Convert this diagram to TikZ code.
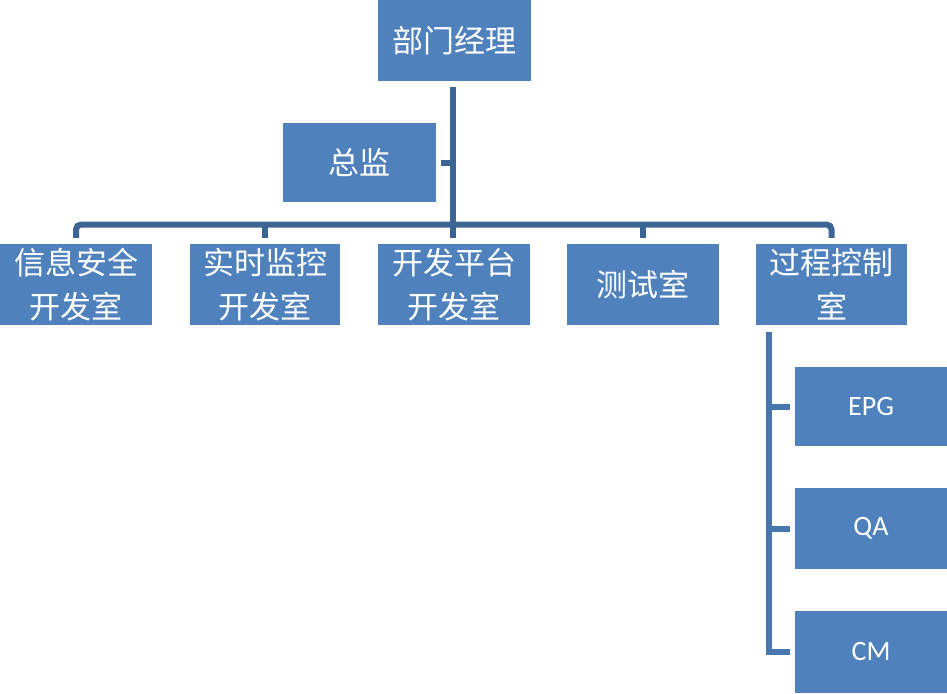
\documentclass[tikz,border=0pt]{standalone}
\usepackage{fontspec}
\newfontfamily\cjk{Noto Sans CJK SC}
\newfontfamily\lat{Carlito}
\usetikzlibrary{calc}
\definecolor{boxblue}{RGB}{79,129,189}
\definecolor{linedark}{RGB}{60,101,150}
\definecolor{linelight}{RGB}{72,118,174}
\begin{document}
\begin{tikzpicture}[x=1pt,y=-1pt,
  orgbox/.style={fill=boxblue, text=white, minimum width=152pt, minimum height=80pt, inner sep=0pt, align=center, font=\cjk\fontsize{31}{44}\selectfont},
  latbox/.style={orgbox, font=\lat\fontsize{28}{34}\selectfont},
  conn/.style={draw=linedark, line width=6pt},
  connb/.style={draw=linelight, line width=6pt}]
\useasboundingbox (0,0) rectangle (947,693);
\fill[white] (0,0) rectangle (947,693);
\node[orgbox, minimum width=153pt, minimum height=81pt] (mgr) at (454,40.5) {部门经理};
\node[orgbox, minimum width=153pt, minimum height=79pt] (zj) at (359.5,162.5) {总监};
\node[orgbox, minimum height=81pt] (a) at (76,284.5) {信息安全\\开发室};
\node[orgbox, minimum width=150pt, minimum height=81pt] (b) at (265,284.5) {实时监控\\开发室};
\node[orgbox, minimum height=81pt] (c) at (454,284.5) {开发平台\\开发室};
\node[orgbox, minimum height=81pt] (d) at (643,284.5) {测试室};
\node[orgbox, minimum width=151pt, minimum height=81pt] (e) at (831.5,284.5) {过程控制\\室};
\node[latbox, minimum height=79pt] (epg) at (871,406.5) {EPG};
\node[latbox, minimum height=81pt] (qa) at (871,528.5) {QA};
\node[latbox, minimum height=82pt] (cm) at (871,652) {CM};
% top trunk
\coordinate (bar) at (453,224.5);
\draw[conn] ($(mgr.south)+(-1pt,-6pt)$) -- ($(c.north)+(-1pt,6pt)$);
\draw[conn] ($(zj.east)+(5pt,0)$) -- ($(zj.east -| c.north)+(-1pt,0)$);
\draw[conn, rounded corners=5pt] ($(a.north)+(0,6pt)$) |- (bar) -| ($(e.north)+(0,6pt)$);
\draw[conn] ($(b.north)+(0,6pt)$) -- (b.north |- bar);
\draw[conn] ($(d.north)+(0,6pt)$) -- (d.north |- bar);
% branch
\coordinate (br) at ($(e.south)+(-62.5pt,-7pt)$);
\draw[connb] (br) |- ($(cm.west)+(-5pt,0)$);
\draw[connb] ($(epg.west)+(-5pt,0)$) -- (epg.west -| br);
\draw[connb] ($(qa.west)+(-5pt,0)$) -- (qa.west -| br);
\end{tikzpicture}
\end{document}
